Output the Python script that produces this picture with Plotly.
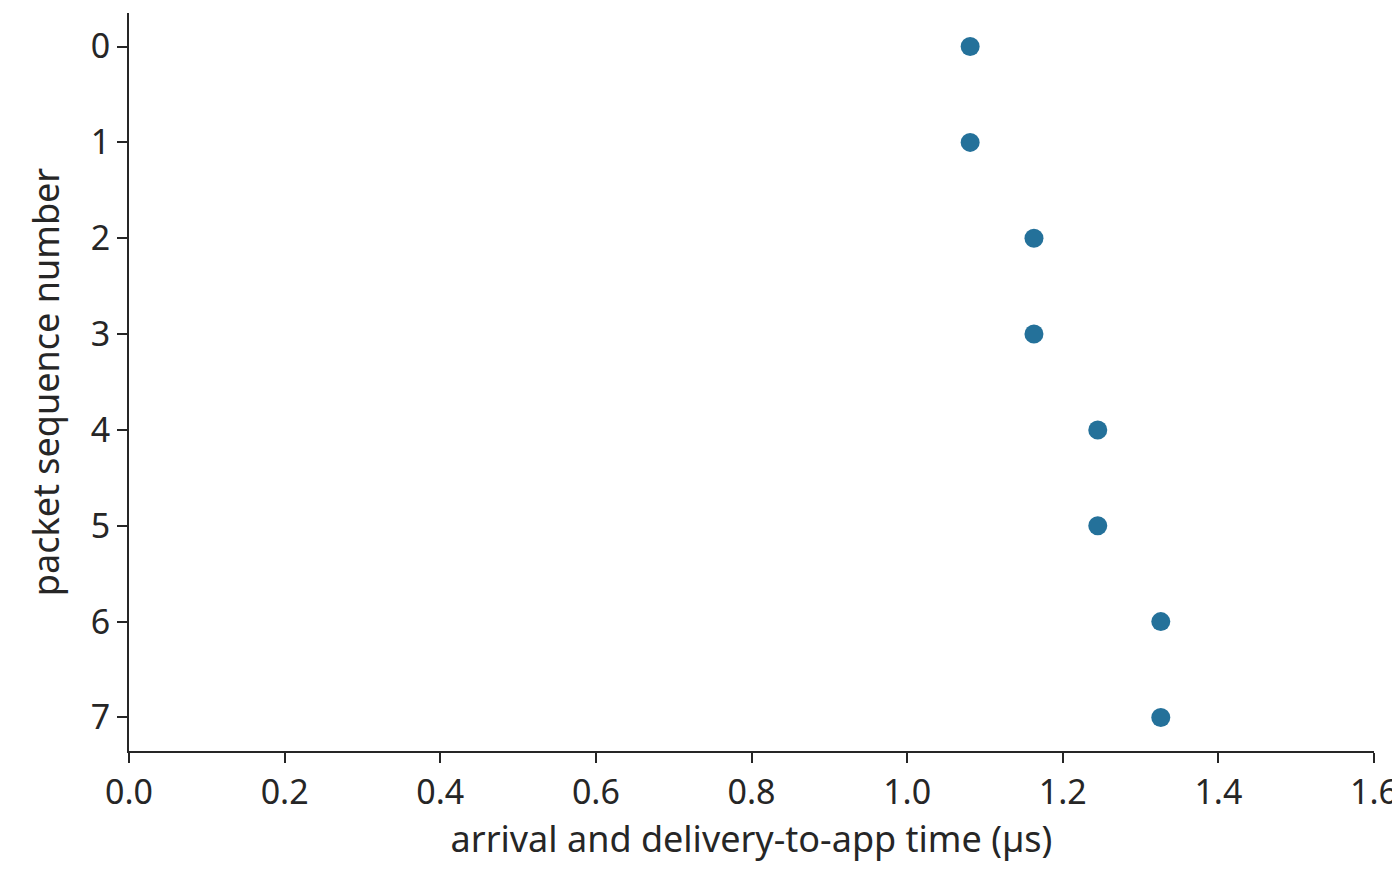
import plotly.graph_objects as go

seq = [0, 1, 2, 3, 4, 5, 6, 7]
times = [1.081, 1.081, 1.163, 1.163, 1.245, 1.245, 1.326, 1.326]
xticks = [0.0, 0.2, 0.4, 0.6, 0.8, 1.0, 1.2, 1.4, 1.6]

fig = go.Figure(go.Scatter(x=times, y=seq, mode="markers",
                           marker=dict(size=19, color="#24719a")))
font = dict(family="Noto Sans, Lato, sans-serif", size=34, color="#262626")
fig.update_layout(
    width=1400, height=885, plot_bgcolor="white", paper_bgcolor="white",
    margin=dict(l=121, r=34, t=5, b=142), font=font, showlegend=False,
)
axis_common = dict(showline=True, linecolor="#262626", linewidth=2, ticks="outside",
                   ticklen=10, tickwidth=2, tickcolor="#262626", showgrid=False,
                   zeroline=False, mirror=False, automargin=False)
fig.update_xaxes(range=[0, 1.6], tickvals=xticks, ticktext=[f"{v:.1f}" for v in xticks],
                 title=dict(text="arrival and delivery-to-app time (µs)", standoff=12,
                            font=dict(size=36)), **axis_common)
fig.update_yaxes(range=[7.35, -0.35], tickvals=seq,
                 title=dict(text="packet sequence number", standoff=20, font=dict(size=36)),
                 **axis_common)
fig.write_html("out.html")
